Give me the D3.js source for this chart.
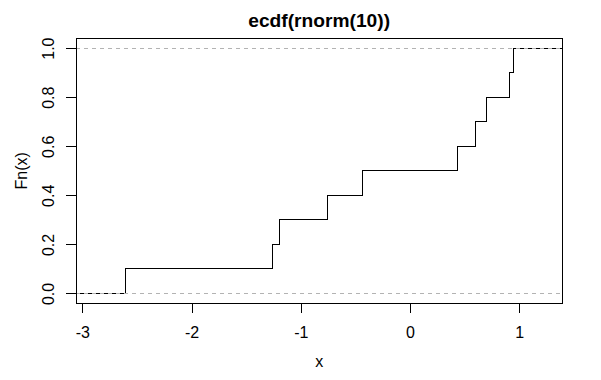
<!DOCTYPE html>
<html>
<head>
<meta charset="utf-8">
<script src="https://cdn.jsdelivr.net/npm/d3@7"></script>
<style>
  body { margin: 0; background: #fff; }
  text { font-family: "Liberation Sans", Arial, sans-serif; fill: #000; }
</style>
</head>
<body>
<div id="chart" style="width:601px;height:380px"></div>
<script>
// jump points of the ecdf and the value after each jump
var knots = [-2.603, -1.261, -1.197, -0.757, -0.433, 0.432, 0.597, 0.701, 0.909, 0.949];
var fnValues = [0.1, 0.2, 0.3, 0.4, 0.5, 0.6, 0.7, 0.8, 0.9, 1.0];
var xTicks = [-3, -2, -1, 0, 1];
var yTicks = [0, 0.2, 0.4, 0.6, 0.8, 1.0];
var refLines = [0, 1];

var width = 601, height = 380;
var plot = {left: 76, right: 562.3, top: 38.3, bottom: 303.3};

var svg = d3.select("#chart")
    .append("svg")
        .attr("width", width)
        .attr("height", height);

var x = d3.scaleLinear()
    .domain([-3.0575, 1.3945])
    .range([plot.left, plot.right]);

var y = d3.scaleLinear()
    .domain([-0.04, 1.04])
    .range([plot.bottom, plot.top]);

// step function: from left edge at 0, through each jump, to right edge at 1
var pts = [[x.domain()[0], 0]];
knots.forEach((k, i) => pts.push([k, fnValues[i]]));
pts.push([x.domain()[1], fnValues[fnValues.length - 1]]);

var line = d3.line()
    .x(d => x(d[0]))
    .y(d => y(d[1]))
    .curve(d3.curveStepAfter);

svg.append("path")
    .datum(pts)
    .attr("d", line)
    .attr("fill", "none")
    .attr("stroke", "#000")
    .attr("stroke-width", 1)
    .attr("shape-rendering", "crispEdges");

// gray dashed lines at 0 and 1
svg.selectAll(".ref")
    .data(refLines)
    .join("line")
        .attr("x1", plot.left)
        .attr("x2", plot.right)
        .attr("y1", d => y(d))
        .attr("y2", d => y(d))
        .attr("stroke", "#b3b3b3")
        .attr("stroke-dasharray", "4,4")
        .attr("shape-rendering", "crispEdges");

// box
svg.append("rect")
    .attr("x", plot.left)
    .attr("y", plot.top)
    .attr("width", plot.right - plot.left)
    .attr("height", plot.bottom - plot.top)
    .attr("fill", "none")
    .attr("stroke", "#000")
    .attr("shape-rendering", "crispEdges");

// x axis (plain hyphen for negatives, like R)
var xAxis = svg.append("g")
    .attr("transform", "translate(0," + plot.bottom + ")")
    .call(d3.axisBottom(x).tickValues(xTicks).tickSize(9.6).tickPadding(14).tickFormat(d => String(d)));
xAxis.select(".domain")
    .attr("d", "M" + x(xTicks[0]) + ",0H" + x(xTicks[xTicks.length - 1]));

// y axis
var yAxis = svg.append("g")
    .attr("transform", "translate(" + plot.left + ",0)")
    .call(d3.axisLeft(y).tickValues(yTicks).tickSize(9.6).tickFormat(d3.format(".1f")));
yAxis.select(".domain")
    .attr("d", "M0," + y(yTicks[0]) + "V" + y(yTicks[yTicks.length - 1]));
yAxis.selectAll(".tick text")
    .attr("x", null).attr("dy", null)
    .attr("transform", "translate(-22,0) rotate(-90)")
    .attr("text-anchor", "middle");

svg.selectAll(".domain, .tick line")
    .attr("stroke", "#000")
    .attr("shape-rendering", "crispEdges");
svg.selectAll(".tick text")
    .style("font-family", "'Liberation Sans', Arial, sans-serif")
    .style("font-size", "16px")
    .attr("fill", "#000");

// titles
svg.append("text")
    .attr("x", (plot.left + plot.right) / 2)
    .attr("y", 27)
    .attr("text-anchor", "middle")
    .style("font-size", "19.2px")
    .style("font-weight", "bold")
    .text("ecdf(rnorm(10))");

svg.append("text")
    .attr("x", (plot.left + plot.right) / 2)
    .attr("y", 367)
    .attr("text-anchor", "middle")
    .style("font-size", "16px")
    .text("x");

svg.append("text")
    .attr("transform", "translate(27," + ((plot.top + plot.bottom) / 2) + ") rotate(-90)")
    .attr("text-anchor", "middle")
    .style("font-size", "16px")
    .text("Fn(x)");
</script>
</body>
</html>
